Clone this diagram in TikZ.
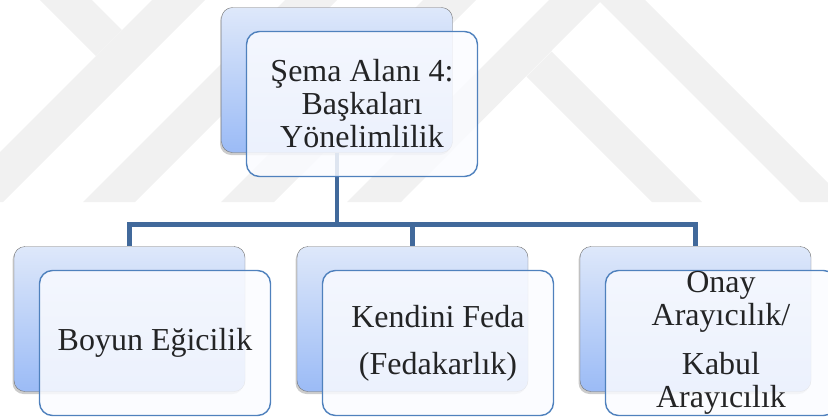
\documentclass[tikz,border=0pt]{standalone}
\usepackage{fontspec}
\setmainfont{Liberation Serif}
\usetikzlibrary{shadows}

\definecolor{linkblue}{RGB}{65,105,155}
\definecolor{frameblue}{RGB}{79,129,189}
\definecolor{shadetop}{RGB}{222,232,250}
\definecolor{shadebot}{RGB}{155,187,246}
\definecolor{backline}{RGB}{115,115,115}
\definecolor{frontfill}{RGB}{250,251,255}
\definecolor{wmgray}{RGB}{241,241,241}

\tikzstyle{backbox}=[rectangle,rounded corners=11pt,draw=backline,top color=shadetop,bottom color=shadebot,minimum width=231pt,minimum height=145pt,drop shadow={shadow xshift=-1.5pt,shadow yshift=-2.5pt,opacity=.4}]
\tikzstyle{frontbox}=[rectangle,rounded corners=13pt,draw=frameblue,line width=1.4pt,fill=frontfill,fill opacity=.85,minimum width=231pt,minimum height=145pt,inner sep=0pt,align=center,font=\fontsize{32}{33}\selectfont]
\tikzstyle{link}=[draw=linkblue,line width=4.5pt]

\begin{document}
\begin{tikzpicture}[x=1pt,y=-1pt]
\useasboundingbox (0,0) rectangle (828,416);
% faint watermark
\fill[wmgray] (40,0) -- (92,0) -- (122,30) -- (96,56) -- cycle;
\fill[wmgray] (152,0) -- (205,0) -- (3,202) -- (0,202) -- (0,152) -- cycle;
\fill[wmgray] (285,0) -- (337,0) -- (135,202) -- (83,202) -- cycle;
\fill[wmgray] (423,0) -- (476,0) -- (274,202) -- (221,202) -- cycle;
\fill[wmgray] (347,202) -- (549,0) -- (645,0) -- (847,202) -- (800,202) -- (600,2) -- (401,202) -- cycle;
\fill[wmgray] (551.5,51.5) -- (702,202) -- (652,202) -- (526.5,76.5) -- cycle;

\node[backbox] (top) at (337,80) {};
\foreach \pos/\name in { {(129.5,319)/s_1}, {(412.5,319)/s_2}, {(695.5,319)/s_3}}
\node[backbox] (\name) at \pos {};
\foreach \name in {s_1,s_2,s_3}
\draw[link] (top.south) -- ++(0,72) -| (\name.north);

\node[frontbox] (f_0) at ([xshift=25pt,yshift=-24pt]top.center) {Şema Alanı 4:\\Başkaları\\Yönelimlilik};
\foreach \i/\txt in { 1/{Boyun Eğicilik}, 2/{Kendini Feda\\[14pt](Fedakarlık)}, 3/{Onay\\Arayıcılık/\\[16pt]Kabul\\Arayıcılık}}
\node[frontbox] (f_\i) at ([xshift=25.5pt,yshift=-24pt]s_\i.center) {\txt};
\end{tikzpicture}
\end{document}
